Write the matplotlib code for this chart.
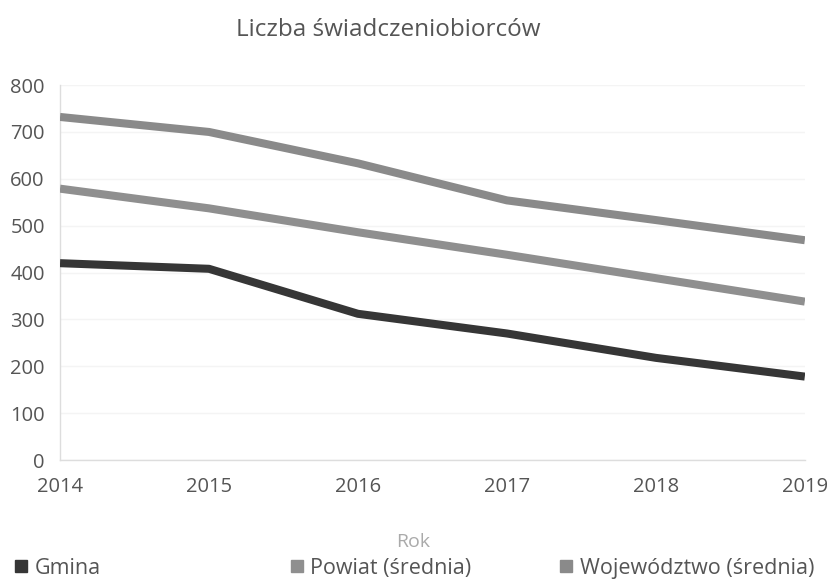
import matplotlib.pyplot as plt
from matplotlib.lines import Line2D

plt.rcParams['font.family'] = ['Open Sans', 'DejaVu Sans']

years = [2014, 2015, 2016, 2017, 2018, 2019]
gmina = [420, 408, 312, 270, 218, 178]
powiat = [579, 537, 486, 438, 388, 338]
wojewodztwo = [732, 700, 633, 554, 512, 469]

series = [
    ("Gmina", gmina, "#363636"),
    ("Powiat (średnia)", powiat, "#8f8f8f"),
    ("Województwo (średnia)", wojewodztwo, "#8a8a8a"),
]
legend_x = [0.016, 0.349, 0.675]

fig = plt.figure(figsize=(8.28, 5.84), dpi=100)
ax = fig.add_axes([0.0725, 0.2123, 0.8995, 0.642])

for name, vals, col in series:
    ax.plot(years, vals, color=col, lw=5.8, solid_capstyle="butt", zorder=3)

ax.set_xlim(2014, 2019)
ax.set_ylim(0, 800)
ax.set_yticks(range(0, 801, 100))
ax.set_xticks(years)
ax.grid(axis="y", color="#f4f4f4", lw=1)
for s in ["top", "right"]:
    ax.spines[s].set_visible(False)
for s in ["left", "bottom"]:
    ax.spines[s].set_color("#dddddd")
    ax.spines[s].set_linewidth(1)
ax.tick_params(length=0, labelsize=14.5, colors="#555555")
ax.tick_params(axis="x", pad=12)
ax.tick_params(axis="y", pad=11)

fig.text(0.469, 0.948, "Liczba świadczeniobiorców", ha="center", va="center",
         fontsize=17.5, color="#555555")
fig.text(0.499, 0.072, "Rok", ha="center", va="center", fontsize=14, color="#aaaaaa")

for (name, vals, col), x in zip(series, legend_x):
    h = Line2D([], [], marker="s", ls="none", color=col, markersize=8)
    fig.legend([h], [name], loc="center left", bbox_to_anchor=(x, 0.027),
               frameon=False, fontsize=15.5, handletextpad=0.3, handlelength=0.7,
               borderaxespad=0, borderpad=0, labelcolor="#555555")

fig.savefig("out.png", dpi=100)
